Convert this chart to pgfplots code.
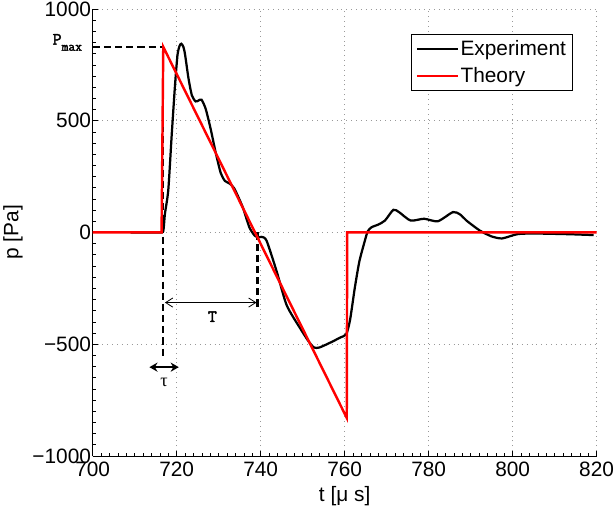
\documentclass[border=0pt]{standalone}
\usepackage{fontspec}
\setmainfont{Liberation Sans}
\newfontfamily\courb[FakeBold=2.5]{Latin Modern Mono}
\newfontfamily\serifgr{Liberation Serif}
\usepackage{pgfplots}
\pgfplotsset{compat=1.18}
\usetikzlibrary{arrows.meta}

\begin{document}
\begin{tikzpicture}
\begin{axis}[
    scale only axis,
    width=496pt, height=440pt,
    xmin=700, xmax=820, ymin=-1000, ymax=1000,
    axis lines*=left,
    axis line style={line width=0.7pt},
    tick align=inside,
    xtick={700,720,...,820},
    ytick={-1000,-500,0,500,1000},
    yticklabels={−1000,−500,0,500,1000},
    minor x tick num=9,
    minor y tick num=9,
    major tick length=5pt, minor tick length=3pt,
    every tick/.style={black, line width=0.6pt},
    minor tick style={black, line width=0.5pt},
    grid=major,
    major grid style={dash pattern=on 0.8pt off 4pt, gray!80, line width=0.7pt},
    font=\fontsize{20.5}{23}\selectfont,
    /pgf/number format/assume math mode=true,
    /pgf/number format/1000 sep={},
    yticklabel style={inner sep=1.5pt},
    xticklabel style={inner sep=1pt, yshift=-5pt},
    xlabel={t [μ s]}, ylabel={p [Pa]},
    every axis x label/.style={at={(axis description cs:0.5,-0.089)},anchor=center},
    every axis y label/.style={at={(axis description cs:-0.158,0.5)},rotate=90,anchor=center},
    legend style={at={(axis description cs:0.952,0.943)}, anchor=north east,
        draw=black, line width=0.8pt, inner xsep=4pt, inner ysep=4pt,
        font=\fontsize{20.5}{23}\selectfont, row sep=6pt},
    legend cell align=left,
    legend image code/.code={\draw[#1, line width=2pt] (0pt,0pt) -- (40pt,0pt);},
    clip=false,
]
% dashed helper lines
\addplot[forget plot, black, line width=2.4pt, dash pattern=on 7pt off 4pt] coordinates {(700,830) (716.8,830)};
\addplot[forget plot, black, line width=2.4pt, dash pattern=on 7pt off 4pt] coordinates {(716.8,830) (716.8,-565)};
\addplot[forget plot, black, line width=2.4pt, dash pattern=on 7pt off 4pt] coordinates {(739.2,0) (739.2,-345)};

\addplot[black, line width=2.2pt, smooth, tension=0.4] coordinates {
(709,0) (714,0) (716,0) (716.8,5) (717.2,83) (718,190) (718.8,432) (719.6,659)
(720.2,795) (720.7,835) (721.1,844) (721.6,830) (722,795) (722.8,690) (723.6,614)
(724.5,586) (725.2,590) (725.9,594) (726.9,553) (728.1,462) (729.3,356) (730.5,265)
(731.5,230) (732.5,220) (733.7,197) (735.7,114) (737.3,23) (738.6,-15) (739.5,-22)
(740.2,-20) (741.4,-37) (743.8,-174) (746.2,-326) (749.5,-432) (751.5,-490)
(752.7,-515) (754,-515) (756.7,-492) (759,-470) (760.4,-455) (761.3,-390)
(762.4,-250) (763.5,-130) (764.8,-38) (765.5,5) (766.4,23) (768,35) (769.6,53)
(771.6,101) (773,90) (775.7,53) (778.9,61) (782.2,50) (785.8,91) (787.5,80)
(789.0,53) (792.2,8) (795,-18) (797.5,-27) (801.1,-8) (805.1,-5) (813.2,-8) (819.3,-12)
};
\addlegendentry{Experiment}
\addplot[red, line width=2.4pt] coordinates {
(700,0) (716.4,0) (716.8,830) (760.5,-830) (760.6,0) (820,0)
};
\addlegendentry{Theory}

% annotations
\draw[{Straight Barb[length=7pt,width=9pt,line width=0.8pt]}-{Straight Barb[length=7pt,width=9pt,line width=0.8pt]}, line width=0.8pt]
    (axis cs:717.2,-314) -- (axis cs:739.0,-314);
\node[font=\courb\fontsize{17}{19}\selectfont] at (axis cs:728.5,-377) {T};
\draw[{Stealth[length=8pt,width=9pt]}-{Stealth[length=8pt,width=9pt]}, line width=1.4pt]
    (axis cs:713.5,-603) -- (axis cs:720.5,-603);
\node[font=\serifgr\fontsize{18}{20}\selectfont] at (axis cs:717,-672) {τ};
\node[font=\courb\fontsize{17}{19}\selectfont, anchor=east, inner sep=0pt] at (axis cs:697.5,850) {P\raisebox{-6pt}{\fontsize{13}{15}\selectfont max}};
\end{axis}
\end{tikzpicture}
\end{document}
